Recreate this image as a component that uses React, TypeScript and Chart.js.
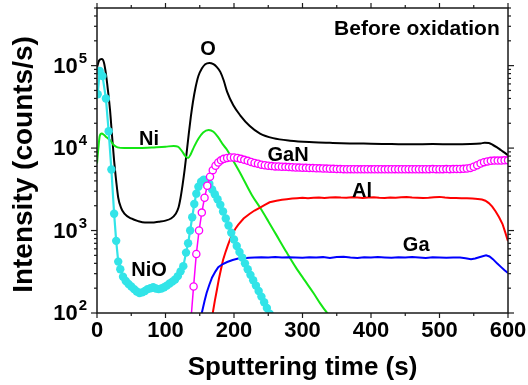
import React, { useEffect, useRef } from "react";
import { Chart, registerables } from "chart.js";

Chart.register(...registerables);

// ---------- axis ranges and ticks ----------
const timeMin = 0;
const timeMax = 600;
const countMin = 100;
const countMax = 5e5;
const xMajorTicks = [0, 100, 200, 300, 400, 500, 600];
const xMinorTicks = [50, 150, 250, 350, 450, 550];
const yDecadeExponents = [2, 3, 4, 5];

// ---------- series: O (black) ----------
const oTime = [0, 3, 7, 10, 13, 16, 19, 22, 25, 28, 31, 35, 40, 50, 60, 70, 80, 90, 100, 108, 115, 119, 122, 125, 128, 131, 134, 137, 140, 144, 148, 153, 158, 164, 170, 175, 180, 185, 190, 199, 209, 223, 238, 257, 282, 316, 340, 369, 400, 430, 460, 490, 520, 545, 560, 566, 572, 578, 584, 590, 595, 600];
const oCounts = [9.5e4, 1.15e5, 1.2e5, 1.1e5, 8e4, 5e4, 2.9e4, 1.4e4, 7e3, 4e3, 2.5e3, 1.9e3, 1.6e3, 1.4e3, 1.3e3, 1.25e3, 1.25e3, 1.28e3, 1.32e3, 1.4e3, 1.6e3, 1.9e3, 2.5e3, 3.6e3, 5.5e3, 9e3, 1.5e4, 2.4e4, 3.6e4, 5.5e4, 7.5e4, 9.2e4, 1.04e5, 1.08e5, 1.04e5, 9.6e4, 8.4e4, 6.6e4, 4.8e4, 3.3e4, 2.5e4, 1.85e4, 1.5e4, 1.32e4, 1.23e4, 1.18e4, 1.16e4, 1.14e4, 1.13e4, 1.12e4, 1.11e4, 1.12e4, 1.11e4, 1.12e4, 1.14e4, 1.16e4, 1.15e4, 1.09e4, 1.02e4, 9.4e3, 8.8e3, 8.2e3];

// ---------- series: Ni (green) ----------
const niTime = [0, 2, 4, 7, 10, 14, 19, 24, 30, 40, 60, 80, 100, 112, 118, 124, 129, 133, 137, 142, 148, 155, 163, 170, 177, 184, 190, 197, 209, 226, 238, 250, 262, 277, 290, 303, 316, 326, 336, 342];
const niCounts = [6.5e3, 1e4, 1.4e4, 1.5e4, 1.45e4, 1.35e4, 1.25e4, 1.1e4, 1.02e4, 1e4, 1e4, 1.02e4, 1.04e4, 1.06e4, 1.04e4, 9.2e3, 8e3, 7.6e3, 8.5e3, 1.05e4, 1.3e4, 1.55e4, 1.66e4, 1.58e4, 1.35e4, 1.1e4, 9.5e3, 7.5e3, 5e3, 2.7e3, 1.9e3, 1.3e3, 880, 540, 360, 250, 175, 130, 100, 88];

// ---------- series: NiO (cyan, filled circles) ----------
const nioTime = [1, 4, 8, 13, 17, 21, 25, 28, 31, 34, 38, 42, 46, 50, 54, 58, 62, 66, 70, 74, 78, 82, 86, 90, 94, 98, 102, 106, 110, 114, 118, 122, 126, 130, 133, 136, 139, 142, 145, 148, 152, 156, 160, 164, 168, 172, 176, 180, 184, 188, 192, 196, 200, 204, 208, 212, 216, 220, 224, 228, 232, 236, 240, 244, 248, 252];
const nioCounts = [4.5e4, 8.6e4, 7.5e4, 4.0e4, 1.6e4, 5.5e3, 1.6e3, 750, 420, 340, 275, 245, 225, 210, 195, 182, 175, 178, 185, 195, 200, 205, 198, 195, 198, 205, 215, 228, 240, 255, 280, 320, 370, 540, 700, 1000, 1450, 2100, 2800, 3400, 3900, 4150, 4100, 3700, 3150, 2750, 2400, 2050, 1700, 1400, 1150, 940, 780, 650, 550, 470, 400, 340, 290, 250, 215, 185, 158, 135, 115, 98];

// ---------- series: GaN (magenta, open circles) ----------
const ganTime = [137, 141, 145, 149, 153, 157, 161, 165, 169, 173, 177, 181, 185, 190, 195, 200, 205, 210, 215, 220, 225, 230, 235, 240, 245, 250, 255, 260, 265, 270, 275, 280, 285, 290, 295, 300, 305, 310, 315, 320, 325, 330, 335, 340, 345, 350, 355, 360, 365, 370, 375, 380, 385, 390, 395, 400, 405, 410, 415, 420, 425, 430, 435, 440, 445, 450, 455, 460, 465, 470, 475, 480, 485, 490, 495, 500, 505, 510, 515, 520, 525, 530, 535, 540, 545, 550, 555, 560, 565, 570, 575, 580, 585, 590, 595, 600];
const ganCounts = [80, 210, 520, 1000, 1650, 2500, 3500, 4500, 5400, 6100, 6700, 7100, 7400, 7600, 7700, 7700, 7600, 7400, 7200, 7000, 6800, 6600, 6450, 6300, 6200, 6100, 6050, 6000, 5980, 5950, 5920, 5880, 5850, 5820, 5800, 5780, 5760, 5740, 5720, 5700, 5680, 5660, 5640, 5620, 5600, 5580, 5560, 5550, 5540, 5550, 5530, 5540, 5520, 5540, 5530, 5520, 5530, 5540, 5530, 5520, 5530, 5540, 5550, 5540, 5530, 5540, 5550, 5540, 5530, 5540, 5550, 5540, 5550, 5560, 5550, 5540, 5550, 5560, 5550, 5560, 5570, 5570, 5600, 5650, 5750, 5950, 6200, 6500, 6750, 6900, 7000, 7050, 7050, 7050, 7100, 7100];

// ---------- series: Al (red) ----------
const alTime = [166, 169, 172, 175, 178, 181, 184, 188, 191, 194, 198, 202, 206, 214, 223, 230, 238, 245, 252, 262, 270, 277, 285, 292, 300, 308, 316, 324, 332, 340, 348, 356, 364, 372, 380, 388, 396, 404, 412, 420, 428, 436, 444, 452, 460, 468, 476, 484, 492, 500, 508, 516, 524, 532, 540, 548, 556, 562, 567, 572, 577, 582, 587, 592, 596, 600];
const alCounts = [70, 100, 140, 190, 260, 340, 440, 560, 660, 770, 920, 1050, 1170, 1400, 1600, 1750, 1900, 2050, 2200, 2300, 2360, 2400, 2440, 2460, 2490, 2470, 2500, 2510, 2490, 2520, 2540, 2510, 2500, 2530, 2510, 2480, 2520, 2540, 2500, 2480, 2520, 2500, 2530, 2550, 2520, 2500, 2480, 2500, 2530, 2560, 2510, 2490, 2480, 2470, 2460, 2440, 2420, 2380, 2300, 2150, 1950, 1700, 1450, 1200, 950, 740];

// ---------- series: Ga (blue) ----------
const gaTime = [150, 153, 157, 160, 164, 168, 173, 177, 183, 190, 198, 206, 214, 222, 230, 240, 250, 260, 270, 280, 290, 300, 310, 320, 330, 340, 350, 360, 370, 380, 390, 400, 410, 420, 430, 440, 450, 460, 470, 480, 490, 500, 510, 520, 530, 538, 546, 552, 558, 563, 568, 573, 578, 584, 590, 595, 600];
const gaCounts = [70, 100, 140, 175, 220, 270, 320, 360, 390, 415, 440, 458, 462, 468, 470, 474, 472, 478, 470, 476, 472, 468, 474, 470, 476, 465, 478, 480, 470, 464, 474, 470, 478, 472, 468, 475, 470, 478, 472, 466, 474, 470, 468, 472, 470, 462, 448, 458, 475, 488, 500, 485, 450, 400, 360, 330, 305];

// ---------- text ----------
const xTitle = "Sputtering time (s)";
const yTitle = "Intensity (counts/s)";
const panelTitle = "Before oxidation";
const labelTexts = ["O", "Ni", "GaN", "Al", "Ga", "NiO"];
const labelTimes = [162, 76, 279, 387, 466, 76];
const labelCounts = [1.55e5, 1.28e4, 8.2e3, 3.0e3, 650, 325];
const panelTitleTime = 588;
const panelTitleCount = 2.8e5;

const FONT = '"Liberation Sans", Arial, sans-serif';

function pts(t: number[], v: number[]) {
  return t.map((x, i) => ({ x, y: v[i] }));
}

const axisPlugin = {
  id: "axisFrame",
  afterDatasetsDraw(chart: any) {
    const ctx = chart.ctx as CanvasRenderingContext2D;
    const { left, right, top, bottom } = chart.chartArea;
    const xs = chart.scales.x;
    const ys = chart.scales.y;
    ctx.save();
    const line = (x1: number, y1: number, x2: number, y2: number) => {
      ctx.beginPath();
      ctx.moveTo(x1, y1);
      ctx.lineTo(x2, y2);
      ctx.stroke();
    };
    ctx.strokeStyle = "#1a1a1a";
    ctx.lineWidth = 1.5;
    ctx.strokeRect(left, top, right - left, bottom - top);
    ctx.lineWidth = 1.2;
    for (const v of xMajorTicks) {
      const px = xs.getPixelForValue(v);
      line(px, bottom, px, bottom + 5);
      line(px, top, px, top - 5);
    }
    for (const v of xMinorTicks) {
      const px = xs.getPixelForValue(v);
      line(px, bottom, px, bottom + 3);
      line(px, top, px, top - 3);
    }
    for (const e of yDecadeExponents) {
      for (let m = 1; m <= 9; m++) {
        const v = m * Math.pow(10, e);
        if (v < countMin || v > countMax) continue;
        const py = ys.getPixelForValue(v);
        const len = m === 1 ? 6 : 3;
        line(left - len, py, left, py);
        line(right, py, right + len, py);
      }
    }
    ctx.fillStyle = "#000";
    ctx.font = `bold 22px ${FONT}`;
    ctx.textAlign = "center";
    ctx.textBaseline = "middle";
    for (const v of xMajorTicks) {
      ctx.fillText(String(v), xs.getPixelForValue(v), bottom + 18);
    }
    const labelRight = left - 10;
    for (const e of yDecadeExponents) {
      const py = ys.getPixelForValue(Math.pow(10, e));
      ctx.font = `bold 15px ${FONT}`;
      const supW = ctx.measureText(String(e)).width;
      ctx.textAlign = "left";
      ctx.textBaseline = "middle";
      ctx.fillText(String(e), labelRight - supW, py - 7);
      ctx.font = `bold 22px ${FONT}`;
      ctx.textAlign = "right";
      ctx.fillText("10", labelRight - supW - 1, py + 1);
    }
    ctx.font = `bold 26px ${FONT}`;
    ctx.textAlign = "center";
    ctx.textBaseline = "alphabetic";
    ctx.fillText(xTitle, (left + right) / 2, 375);
    ctx.save();
    ctx.translate(32, (top + bottom) / 2 + 4);
    ctx.rotate(-Math.PI / 2);
    ctx.font = `bold 28px ${FONT}`;
    ctx.fillText(yTitle, 0, 0);
    ctx.restore();
    ctx.font = `bold 20px ${FONT}`;
    ctx.textAlign = "center";
    ctx.textBaseline = "middle";
    labelTexts.forEach((t, i) => {
      ctx.fillText(t, xs.getPixelForValue(labelTimes[i]), ys.getPixelForValue(labelCounts[i]));
    });
    ctx.font = `bold 21px ${FONT}`;
    ctx.textAlign = "right";
    ctx.fillText(panelTitle, xs.getPixelForValue(panelTitleTime), ys.getPixelForValue(panelTitleCount));
    ctx.restore();
  },
};

export default function App() {
  const ref = useRef<HTMLCanvasElement>(null);
  useEffect(() => {
    document.body.style.margin = "0";
    const cyan = "rgb(50,228,232)";
    const magenta = "#ff00ff";
    const chart = new Chart(ref.current as HTMLCanvasElement, {
      type: "line",
      data: {
        datasets: [
          {
            label: "GaN",
            data: pts(ganTime, ganCounts),
            borderColor: magenta,
            borderWidth: 1.5,
            pointRadius: 3.6,
            pointBackgroundColor: "#ffffff",
            pointBorderColor: magenta,
            pointBorderWidth: 1.3,
            order: 0,
          },
          {
            label: "NiO",
            data: pts(nioTime, nioCounts),
            borderColor: cyan,
            borderWidth: 2.2,
            pointRadius: 4.2,
            pointBackgroundColor: cyan,
            pointBorderColor: cyan,
            pointBorderWidth: 0,
            order: 1,
          },
          {
            label: "Ga",
            data: pts(gaTime, gaCounts),
            borderColor: "#0000ff",
            borderWidth: 2,
            pointRadius: 0,
            order: 2,
          },
          {
            label: "Al",
            data: pts(alTime, alCounts),
            borderColor: "#ff0000",
            borderWidth: 2,
            pointRadius: 0,
            order: 3,
          },
          {
            label: "Ni",
            data: pts(niTime, niCounts),
            borderColor: "rgb(20,230,20)",
            borderWidth: 2,
            pointRadius: 0,
            cubicInterpolationMode: "monotone",
            order: 4,
          },
          {
            label: "O",
            data: pts(oTime, oCounts),
            borderColor: "#000000",
            borderWidth: 2,
            pointRadius: 0,
            cubicInterpolationMode: "monotone",
            order: 5,
          },
        ],
      } as any,
      options: {
        responsive: false,
        animation: false,
        layout: { padding: { left: 97, right: 20, top: 8, bottom: 72 } },
        scales: {
          x: { type: "linear", min: timeMin, max: timeMax, display: false },
          y: { type: "logarithmic", min: countMin, max: countMax, display: false },
        },
        plugins: { legend: { display: false }, tooltip: { enabled: false } },
        events: [],
      } as any,
      plugins: [axisPlugin],
    });
    return () => chart.destroy();
  }, []);
  return (
    <div style={{ width: 528, height: 385 }}>
      <canvas ref={ref} width={528} height={385} style={{ display: "block", width: 528, height: 385 }} />
    </div>
  );
}
